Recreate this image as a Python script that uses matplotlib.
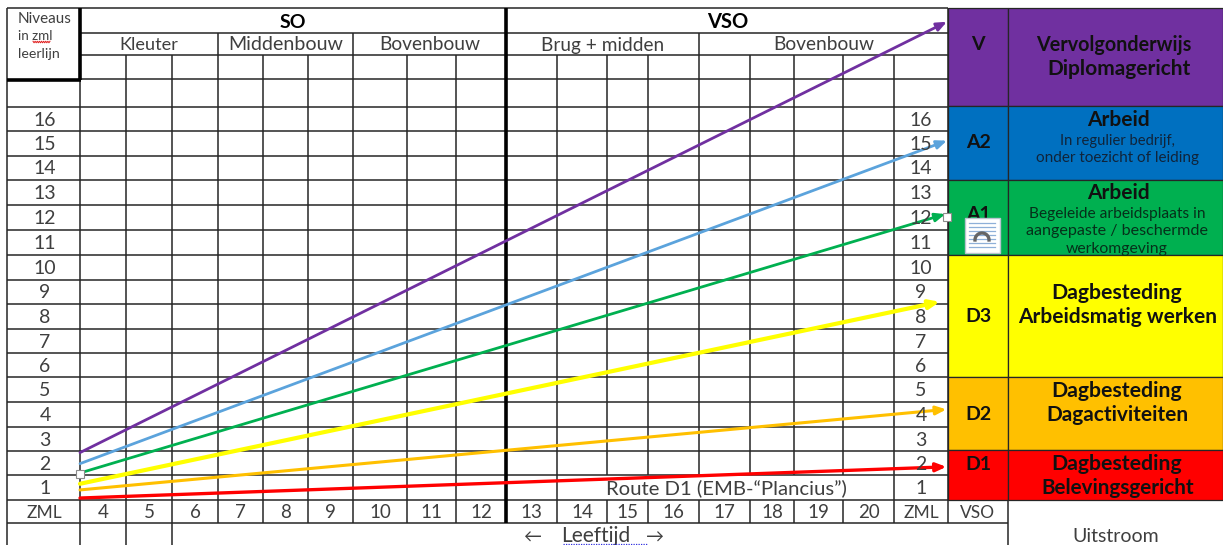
import numpy as np
import matplotlib.pyplot as plt
from matplotlib.patches import Rectangle

plt.rcParams['font.family'] = ['Lato', 'DejaVu Sans']

# Chart content
ages = ['4', '5', '6', '7', '8', '9', '10', '11', '12', '13', '14', '15', '16', '17', '18', '19', '20']
levels = [16, 15, 14, 13, 12, 11, 10, 9, 8, 7, 6, 5, 4, 3, 2, 1]
groups = ['Kleuter', 'Middenbouw', 'Bovenbouw', 'Brug + midden', 'Bovenbouw']
group_sizes = [13.1, 14.1, 13.8, 13.7, 13.8]

route_names = ['V', 'A2', 'A1', 'D3', 'D2', 'D1']
route_start = [1.93, 1.48, 1.10, 0.66, 0.41, 0.08]   # level at the left edge
route_end = [19.47, 14.63, 11.64, 8.07, 3.69, 1.35]  # level at the arrow tip
route_end_col = [17.98, 17.98, 17.95, 17.85, 17.97, 17.97]  # column position of the tip
route_colors = ['#7030A0', '#5BA3DC', '#00B050', '#FFFF00', '#FFC000', '#FF0000']
route_widths = [2.0, 2.0, 2.0, 3.0, 2.2, 2.4]

# Layout in pixels
col_edges = [80, 126, 172, 218, 263, 308, 353, 407, 456, 506, 557, 607, 648, 699, 750, 794, 843, 894, 948]
row_edges = [107, 131, 156, 180, 205, 230, 255, 280, 304, 329, 353, 377, 402, 427, 451, 475, 500]
group_edges = [80, 218, 353, 506, 699, 948]
LEFT, RIGHT, MID, TOP, H1, H2, H3, ROW_ZML, BOTTOM = 7, 1223, 1008, 8, 33, 55, 79, 523, 545


def col_x(c):
    return np.interp(c, np.arange(len(col_edges)), col_edges)


def level_y(v):
    # 0 is the bottom of row 1, 16 the top of row 16; above that keep the same step
    return 500 - v * (500 - 107) / 16


fig = plt.figure(figsize=(12.23, 5.45), dpi=100)
ax = fig.add_axes([0, 0, 1, 1])
ax.set_xlim(0, 1223)
ax.set_ylim(545, 0)
ax.axis('off')

GRID = '#262626'
TXT = '#3f3f3f'


def hline(y, x0, x1, lw=1.1, c=GRID):
    ax.plot([x0, x1], [y, y], color=c, lw=lw, solid_capstyle='butt', zorder=2)


def vline(x, y0, y1, lw=1.1, c=GRID):
    ax.plot([x, x], [y0, y1], color=c, lw=lw, solid_capstyle='butt', zorder=2)


# Grid
for y in [TOP, H1, H2]:
    hline(y, 80, 948)
hline(TOP, LEFT, 80)
hline(H3, 80, 948)
for y in row_edges:
    hline(y, LEFT, 948)
hline(ROW_ZML, LEFT, MID)
vline(LEFT, TOP, BOTTOM)
vline(80, H3, BOTTOM)
for x in [126, 172]:
    vline(x, H2, BOTTOM)
for x in col_edges[3:-2]:
    if x == 506:
        continue
    if x > 557:
        vline(x, H2, 475)
        vline(x, 500, ROW_ZML)
    else:
        vline(x, H2 if x not in (218, 353) else H1, ROW_ZML)
vline(894, H2, ROW_ZML)
vline(948, TOP, ROW_ZML)
vline(699, H1, H2)
vline(MID, 500, BOTTOM)
# heavy lines
vline(80, TOP, H3 + 1, lw=2.6, c='black')
hline(H3 + 1, LEFT, 81, lw=2.6, c='black')
vline(506, TOP, ROW_ZML, lw=2.6, c='black')

# Outflow boxes
box_tops = [8, 106, 180, 255, 377, 450]
box_bottoms = [106, 180, 255, 377, 450, 500]
box_colors = ['#7030A0', '#0070C0', '#00B050', '#FFFF00', '#FFC000', '#FF0000']
for top, bot, col in zip(box_tops, box_bottoms, box_colors):
    for x0, x1 in [(948, MID), (MID, RIGHT)]:
        ax.add_patch(Rectangle((x0, top), x1 - x0, bot - top, fc=col, ec=GRID, lw=0.9, zorder=3))

# Routes
for name, s, e, c_end, color, w in zip(route_names, route_start, route_end, route_end_col, route_colors, route_widths):
    ax.annotate('', xy=(col_x(c_end), level_y(e)), xytext=(80, level_y(s)), zorder=5,
                arrowprops=dict(arrowstyle='-|>,head_length=0.6,head_width=0.25', color=color,
                                lw=w, shrinkA=0, shrinkB=0))


def label(x, y, s, size=13, c=TXT, weight='normal', ha='center', zorder=6):
    # Lato sits about a pixel high when centred, so nudge it down
    ax.text(x, y + 1, s, fontsize=size, color=c, fontweight=weight, ha=ha, va='center', zorder=zorder)


# Header texts
label(45, 18, 'Niveaus', size=11)
label(18, 35, 'in zml', size=9.6, ha='left')
label(18, 53, 'leerlijn', size=10.2, ha='left')
wx = np.linspace(33, 50, 17)
ax.plot(wx, 42 + 0.8 * np.where(np.arange(17) % 2, 1, -1), color='#E02020', lw=0.7, zorder=6)
label(293, 21, 'SO', size=14, c='black', weight='bold')
label(728, 21, 'VSO', size=14.5, c='black', weight='bold')
for g, s, x0, x1 in zip(groups, group_sizes, group_edges[:-1], group_edges[1:]):
    # the last group label sits a little left of its span, over the 17-20 columns
    xc = (x0 + x1) / 2 if x1 != 948 else 824
    label(xc, 44, g, size=s)

# Level and age labels
for i, lev in enumerate(levels):
    yc = (row_edges[i] + row_edges[i + 1]) / 2
    label(45, yc, str(lev), size=14)
    label(921, yc, str(lev), size=14)
for i, a in enumerate(ages):
    label((col_edges[i] + col_edges[i + 1]) / 2, 512, a, size=13.5)
label(44, 512, 'ZML', size=12.5)
label(921, 512, 'ZML', size=12.5)
label(978, 512, 'VSO', size=12.5)
label(726, 487, 'Route D1 (EMB-\u201cPlancius\u201d)', size=14.6)
label(596, 535, 'Leeftijd', size=15)
label(532, 537, '\u2190', size=13)
label(655, 537, '\u2192', size=13)
ax.plot([563, 647], [544, 544], color='#3030E0', lw=0.9, ls=(0, (1, 1)), zorder=6)
label(1116, 535, 'Uitstroom', size=14)

# Box labels
DARK = '#111111'
label(978, 44, 'V', size=14, c=DARK, weight='bold')
label(978, 142, 'A2', size=14, c=DARK, weight='bold')
label(978, 213, 'A1', size=14, c=DARK, weight='bold')
label(978, 315, 'D3', size=14, c=DARK, weight='bold')
label(978, 413, 'D2', size=14, c=DARK, weight='bold')
label(978, 463, 'D1', size=14, c=DARK, weight='bold')
label(1114, 44, 'Vervolgonderwijs', size=14.2, c=DARK, weight='bold')
label(1119, 68, 'Diplomagericht', size=15, c=DARK, weight='bold')
label(1118, 119, 'Arbeid', size=15, c=DARK, weight='bold')
label(1117, 140, 'In regulier bedrijf,', size=10.6, c='#10243a')
label(1118, 157, 'onder toezicht of leiding', size=11, c='#10243a')
label(1118, 192, 'Arbeid', size=15, c=DARK, weight='bold')
label(1117, 213, 'Begeleide arbeidsplaats in', size=11.2, c='#06301a')
label(1117, 230, 'aangepaste / beschermde', size=11.6, c='#06301a')
label(1117, 248, 'werkomgeving', size=11.3, c='#06301a')
label(1117, 292, 'Dagbesteding', size=15.3, c=DARK, weight='bold')
label(1118, 316, 'Arbeidsmatig werken', size=15, c=DARK, weight='bold')
label(1117, 390, 'Dagbesteding', size=15.3, c=DARK, weight='bold')
label(1117, 414, 'Dagactiviteiten', size=15, c=DARK, weight='bold')
label(1117, 463, 'Dagbesteding', size=15.3, c=DARK, weight='bold')
label(1118, 487, 'Belevingsgericht', size=14.9, c=DARK, weight='bold')

# Selection handles and the anchor icon
for hx, hy in [(80, 474), (947, 217)]:
    ax.add_patch(Rectangle((hx - 4, hy - 4), 8, 8, fc='white', ec='#8c8c8c', lw=0.8, zorder=7))
ax.add_patch(Rectangle((965, 218), 35, 35, fc='white', ec='#b8c4d0', lw=1.0, zorder=7))
for ly in [223, 227, 231, 235, 239, 243, 247]:
    ax.plot([969, 995], [ly, ly], color='#8fb0d8', lw=0.9, zorder=8)
t = np.linspace(np.pi, 2 * np.pi, 30)
ax.plot(982 + 7 * np.cos(t), 240 + 7 * np.sin(t), color='#666666', lw=2.4, zorder=9)

fig.savefig('out.png', dpi=100)
